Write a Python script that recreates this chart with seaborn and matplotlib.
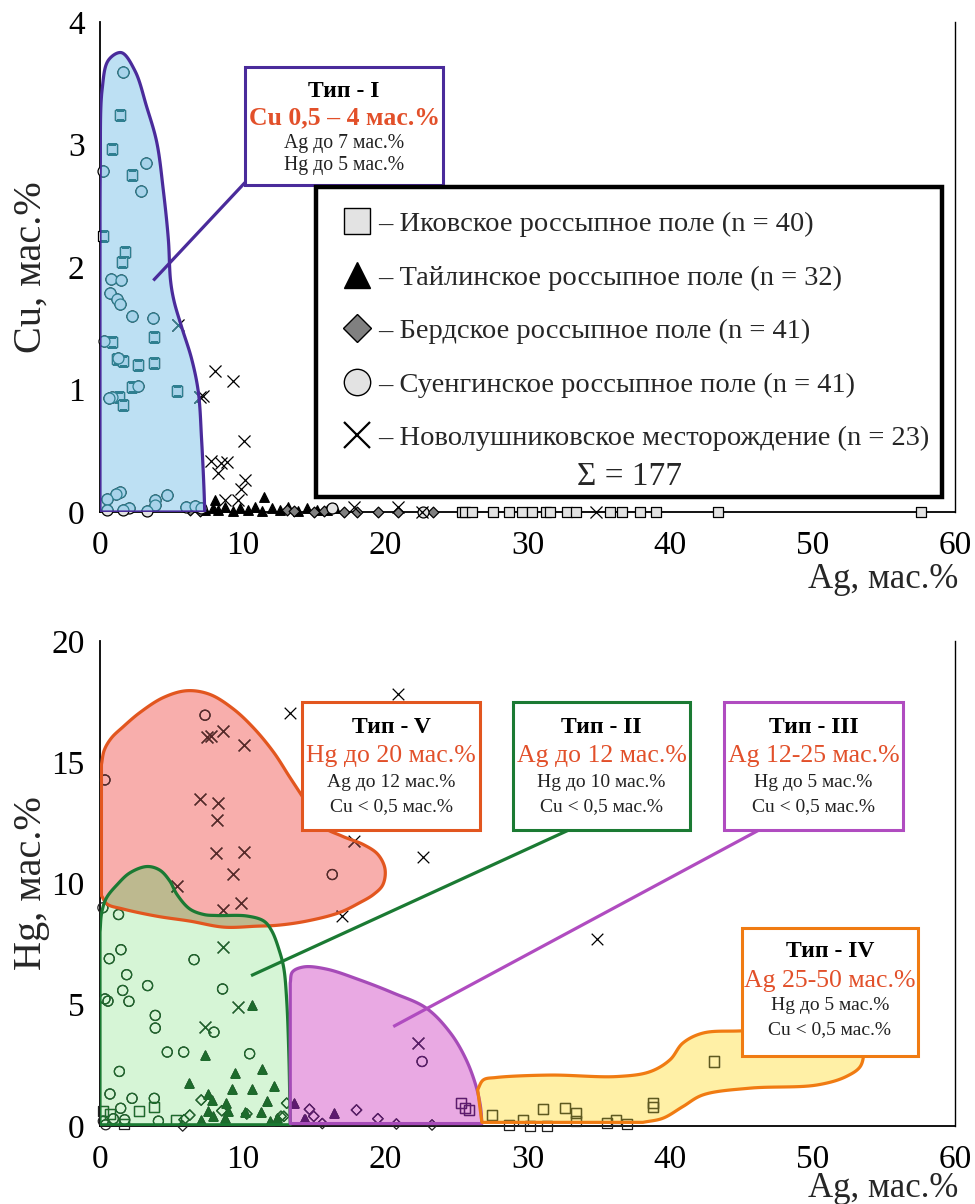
import numpy as np
import matplotlib
matplotlib.use("Agg")
import matplotlib.pyplot as plt
from matplotlib.patches import Polygon, Rectangle
from matplotlib.lines import Line2D
import seaborn as sns

# ---------------- Upper panel: Cu vs Ag (mass %) ----------------
ikovo_ag_top = [1.40, 0.82, 2.22, 0.19, 1.75, 1.57, 0.82, 3.81, 1.17, 1.64, 2.69, 3.79,
                2.22, 5.38, 1.36, 1.59, 25.4, 25.6, 26.1, 27.6, 28.7, 29.6, 30.3, 31.3,
                31.6, 32.8, 33.4, 35.8, 36.6, 37.9, 39.0, 43.4, 57.6]
ikovo_cu_top = [3.24, 2.96, 2.75, 2.25, 2.12, 2.04, 1.39, 1.43, 1.25, 1.23, 1.20, 1.22,
                1.02, 0.99, 0.94, 0.87, 0.0, 0.0, 0.0, 0.0, 0.0, 0.0, 0.0, 0.0,
                0.0, 0.0, 0.0, 0.0, 0.0, 0.0, 0.0, 0.0, 0.0]

taylin_ag_top = [7.4, 7.9, 8.1, 8.3, 8.8, 9.3, 9.8, 10.4, 10.9, 11.4, 11.5, 12.1, 12.6,
                 13.2, 13.9, 14.5, 15.2, 15.9, 16.5]
taylin_cu_top = [0.02, 0.03, 0.10, 0.02, 0.04, 0.01, 0.03, 0.02, 0.04, 0.01, 0.12, 0.03,
                 0.02, 0.04, 0.01, 0.03, 0.02, 0.02, 0.03]

berd_ag_top = [6.3, 7.0, 13.1, 13.6, 15.0, 15.7, 17.1, 18.0, 19.5, 20.9, 23.4]
berd_cu_top = [0.02, 0.01, 0.02, 0.01, 0.0, 0.01, 0.0, 0.0, 0.0, 0.0, 0.0]

suenga_ag_top = [1.64, 0.23, 3.23, 2.85, 0.75, 1.47, 0.70, 1.22, 1.40, 2.22, 3.74, 0.28,
                 1.29, 2.69, 0.82, 0.60, 1.40, 1.12, 0.47, 4.68, 3.86, 3.86, 0.5, 2.0,
                 1.6, 3.3, 6.0, 6.7, 7.1, 16.3, 22.7]
suenga_cu_top = [3.59, 2.78, 2.85, 2.62, 1.90, 1.89, 1.79, 1.74, 1.70, 1.60, 1.58, 1.40,
                 1.26, 1.03, 0.94, 0.93, 0.16, 0.15, 0.11, 0.14, 0.10, 0.06, 0.02, 0.03,
                 0.02, 0.01, 0.04, 0.05, 0.03, 0.03, 0.0]

novo_ag_top = [5.5, 8.1, 9.35, 7.25, 7.0, 10.1, 7.8, 8.5, 8.9, 8.3, 10.2, 9.9, 8.8, 9.7,
               17.8, 20.9, 22.6, 34.8]
novo_cu_top = [1.53, 1.15, 1.07, 0.95, 0.94, 0.58, 0.42, 0.40, 0.41, 0.32, 0.26, 0.19,
               0.10, 0.10, 0.04, 0.04, 0.0, 0.0]

# ---------------- Lower panel: Hg vs Ag (mass %) ----------------
ikovo_ag_bot = [3.81, 2.76, 0.23, 0.7, 1.7, 5.33, 25.3, 25.6, 25.9, 27.5, 28.7, 29.7,
                30.2, 31.1, 31.4, 32.6, 33.4, 33.4, 35.6, 36.2, 37.0, 38.8, 38.8, 43.1]
ikovo_hg_bot = [0.8, 0.63, 0.6, 0.5, 0.1, 0.25, 0.94, 0.75, 0.65, 0.45, 0.04, 0.25,
                0.0, 0.69, 0.0, 0.73, 0.52, 0.2, 0.14, 0.25, 0.1, 0.96, 0.8, 2.66]

taylin_ag_bot = [10.7, 7.37, 11.4, 9.5, 6.27, 9.24, 10.7, 12.2, 7.6, 7.85, 11.7, 8.85,
                 7.6, 9.0, 10.2, 11.3, 7.9, 8.8, 12.4, 11.9, 7.1, 13.6, 14.3, 16.4, 14.4]
taylin_hg_bot = [5.0, 2.93, 2.34, 2.18, 1.79, 1.53, 1.53, 1.65, 1.32, 1.07, 1.03, 0.94,
                 0.63, 0.6, 0.59, 0.59, 0.4, 0.35, 0.35, 0.2, 0.26, 0.94, 0.3, 0.52, 0.3]

berd_ag_bot = [7.1, 8.55, 10.3, 13.1, 14.7, 15.0, 15.6, 18.0, 19.5, 20.8, 23.3, 5.9,
               5.8, 12.7, 6.3, 12.9]
berd_hg_bot = [1.07, 0.63, 0.5, 0.94, 0.69, 0.4, 0.1, 0.66, 0.3, 0.08, 0.04, 0.26,
               0.0, 0.4, 0.45, 0.4]

suenga_ag_bot = [7.37, 0.35, 16.3, 0.2, 1.3, 1.47, 0.65, 6.6, 1.87, 3.34, 1.59, 8.6,
                 0.35, 0.56, 2.03, 3.88, 3.88, 8.0, 4.72, 5.87, 10.5, 1.36, 0.7, 2.25,
                 3.81, 1.45, 0.94, 1.73, 0.23, 4.1, 0.4, 22.6]
suenga_hg_bot = [16.94, 14.27, 10.37, 9.0, 8.72, 7.27, 6.9, 6.86, 6.24, 5.79, 5.59, 5.65,
                 5.24, 5.15, 5.14, 4.56, 4.04, 3.87, 3.05, 3.05, 2.98, 2.25, 1.32, 1.14,
                 1.14, 0.73, 0.3, 0.26, 0.2, 0.2, 0.05, 2.66]

novo_ag_bot = [13.3, 20.9, 7.5, 7.8, 8.65, 10.1, 7.0, 8.3, 8.2, 8.15, 10.1, 9.3, 5.4,
               9.9, 8.65, 17.8, 17.0, 8.65, 9.7, 7.4, 22.3, 22.7, 34.9]
novo_hg_bot = [17.05, 17.8, 16.05, 16.1, 16.3, 15.7, 13.5, 13.3, 12.6, 11.27, 11.3, 10.4,
               9.9, 9.2, 8.9, 11.75, 8.68, 7.4, 4.9, 4.1, 3.42, 11.1, 7.7]

legend_labels = [
    "– Иковское россыпное поле (n = 40)",
    "– Тайлинское россыпное поле (n = 32)",
    "– Бердское россыпное поле (n = 41)",
    "– Суенгинское россыпное поле (n = 41)",
    "– Новолушниковское месторождение (n = 23)",
]
total_label = "Σ = 177"
x_ticks = [0, 10, 20, 30, 40, 50, 60]

# ---------------- Field outlines (Ag, value) ----------------
FIELD_I = [("curve", [(0.0, 2.0), (0.02, 2.8), (0.15, 3.45), (0.6, 3.69), (1.5, 3.75),
                      (2.46, 3.6), (3.27, 3.31), (3.98, 3.02), (4.44, 2.63), (4.8, 2.22),
                      (4.95, 1.89), (5.2, 1.72), (5.73, 1.51), (6.43, 1.25), (6.9, 0.98),
                      (7.13, 0.59), (7.3, 0.18), (7.35, 0.0)]),
           ("line", [(7.35, 0.0), (0.0, 0.0), (0.0, 2.0)])]

FIELD_V = [("curve", [(0.1, 14.9), (0.3, 15.5), (0.8, 16.0), (1.6, 16.45), (2.8, 17.05),
                      (4.45, 17.67), (6.1, 17.95), (7.7, 17.8), (9.35, 17.2), (10.8, 16.4),
                      (12.2, 15.4), (13.3, 14.4), (14.3, 13.5), (15.5, 12.4), (17.0, 11.95),
                      (18.5, 11.6), (19.5, 11.2), (20.0, 10.6), (19.85, 9.95), (19.2, 9.55),
                      (18.2, 9.2), (16.8, 8.8), (14.5, 8.45), (12.5, 8.28), (11.0, 8.24),
                      (8.7, 8.2), (6.3, 8.45), (4.0, 8.65), (1.6, 8.95), (0.5, 9.15),
                      (0.1, 9.5)]),
           ("line", [(0.1, 9.5), (0.1, 14.9)])]

FIELD_II = [("line", [(13.35, 0.05), (0.0, 0.05), (0.0, 8.0)]),
            ("curve", [(0.0, 8.0), (0.12, 8.8), (0.45, 9.4), (1.2, 9.95), (2.1, 10.44),
                       (3.3, 10.7), (4.2, 10.55), (4.9, 10.1), (5.4, 9.55), (6.3, 8.95),
                       (7.3, 8.72), (8.2, 8.68), (10.3, 8.66), (11.5, 8.45), (12.05, 8.05),
                       (12.6, 7.2), (12.9, 6.5), (13.1, 5.2), (13.25, 3.0), (13.35, 0.05)])]

FIELD_III = [("line", [(26.8, 0.1), (13.35, 0.1), (13.35, 5.9)]),
             ("curve", [(13.35, 5.9), (13.5, 6.35), (14.3, 6.56), (15.9, 6.47), (18.2, 6.03),
                        (20.6, 5.48), (22.9, 4.86), (24.6, 3.83), (25.7, 2.73), (26.4, 1.62),
                        (26.7, 0.8), (26.8, 0.1)])]

FIELD_IV = [("curve", [(26.5, 1.5), (26.9, 1.9), (27.8, 2.0), (31.6, 2.1), (36.3, 2.04),
                       (38.6, 2.24), (40.0, 2.73), (40.9, 3.42), (42.3, 3.83), (44.9, 3.92),
                       (50.0, 3.97), (52.6, 3.85), (53.5, 3.3), (53.4, 2.5), (52.4, 2.05),
                       (50.3, 1.69), (45.6, 1.56), (42.3, 1.28), (40.9, 0.8), (39.5, 0.32),
                       (38.1, 0.15)]),
            ("line", [(38.1, 0.15), (26.8, 0.15), (26.5, 1.5)])]

RED = "#e2502a"
SERIF = ["Liberation Serif", "DejaVu Serif"]

sns.set_theme(style="white")
plt.rcParams["font.family"] = SERIF
plt.rcParams["axes.unicode_minus"] = False


def catmull_rom(p, n=14):
    """Centripetal Catmull-Rom curve through the points (display units)."""
    p = np.asarray(p, float)
    if len(p) < 3:
        return p
    ext = np.vstack([2 * p[0] - p[1], p, 2 * p[-1] - p[-2]])
    out = []

    def tj(ti, a, b):
        return ti + max(np.hypot(*(b - a)), 1e-6) ** 0.5

    for i in range(1, len(ext) - 2):
        p0, p1, p2, p3 = ext[i - 1], ext[i], ext[i + 1], ext[i + 2]
        t0 = 0.0
        t1 = tj(t0, p0, p1)
        t2 = tj(t1, p1, p2)
        t3 = tj(t2, p2, p3)
        t = np.linspace(t1, t2, n, endpoint=False)[:, None]
        a1 = (t1 - t) / (t1 - t0) * p0 + (t - t0) / (t1 - t0) * p1
        a2 = (t2 - t) / (t2 - t1) * p1 + (t - t1) / (t2 - t1) * p2
        a3 = (t3 - t) / (t3 - t2) * p2 + (t - t2) / (t3 - t2) * p3
        b1 = (t2 - t) / (t2 - t0) * a1 + (t - t0) / (t2 - t0) * a2
        b2 = (t3 - t) / (t3 - t1) * a2 + (t - t1) / (t3 - t1) * a3
        out.append((t2 - t) / (t2 - t1) * b1 + (t - t1) / (t2 - t1) * b2)
    out.append(p[-1:])
    return np.vstack(out)


def outline(ax, pieces):
    verts = []
    for kind, pts in pieces:
        disp = ax.transData.transform(np.asarray(pts, float))
        seg = catmull_rom(disp) if kind == "curve" else disp
        verts.append(seg if not verts else seg[1:])
    verts = np.vstack(verts)
    return ax.transData.inverted().transform(verts)


def field(ax, pieces, face, edge, lw=2.3):
    verts = outline(ax, pieces)
    fill = Polygon(verts, closed=True, facecolor=face, edgecolor="none", zorder=1)
    ax.add_patch(fill)
    line = Polygon(verts, closed=True, facecolor="none", edgecolor=edge, lw=lw, zorder=5,
                   joinstyle="round")
    ax.add_patch(line)
    return fill, verts


def points(ax, x, y, marker, s, face, edge, lw=0.9, zorder=3, clip=None):
    kw = dict(x=np.asarray(x), y=np.asarray(y), marker=marker, s=s, linewidth=lw,
              ax=ax, zorder=zorder, legend=False)
    if face == "none":
        kw.update(color=edge, facecolor="none", edgecolor=edge)
    else:
        kw.update(color=face, edgecolor=edge)
    n_before = len(ax.collections)
    sns.scatterplot(**kw)
    coll = ax.collections[n_before]
    if clip is None:
        coll.set_clip_on(False)
    else:
        coll.set_clip_path(clip)
    return coll


def info_box(ax, x0, x1, y0, y1, edge, lines, lw=2.2):
    ax.add_patch(Rectangle((x0, y0), x1 - x0, y1 - y0, facecolor="white", edgecolor=edge,
                           lw=lw, zorder=6, clip_on=False))
    xc = 0.5 * (x0 + x1)
    for text, y, size, weight, color in lines:
        ax.text(xc, y, text, ha="center", va="center", fontsize=size, fontweight=weight,
                color=color, zorder=7, clip_on=False)


fig = plt.figure(figsize=(9.75, 12.04), dpi=100)
fig.patch.set_facecolor("white")
ax1 = fig.add_axes([100 / 975, 1 - 512 / 1204, 855 / 975, 490 / 1204])
ax2 = fig.add_axes([100 / 975, 1 - 1126 / 1204, 855 / 975, 485 / 1204])

for ax, ymax, yticks in ((ax1, 4, [0, 1, 2, 3, 4]), (ax2, 20, [0, 5, 10, 15, 20])):
    ax.set_xlim(0, 60)
    ax.set_ylim(0, ymax)
    ax.set_xticks(x_ticks)
    ax.set_yticks(yticks)
    ax.set_facecolor("white")
    ax.grid(False)
    ax.spines["top"].set_visible(False)
    for side in ("left", "bottom"):
        ax.spines[side].set_color("black")
        ax.spines[side].set_linewidth(1.3)
    ax.spines["right"].set_color("black")
    ax.spines["right"].set_linewidth(1.0)
    ax.tick_params(axis="both", direction="out", length=6, width=2.0, colors="black",
                   labelsize=24)
    ax.tick_params(axis="x", pad=7)
    ax.tick_params(axis="y", pad=5)
    for lab in ax.get_xticklabels() + ax.get_yticklabels():
        lab.set_family(SERIF)

# ---------------- Upper panel ----------------
fill_I, _ = field(ax1, FIELD_I, "#bde0f3", "#4a2b9b")

top_sets = [
    (ikovo_ag_top, ikovo_cu_top, "s", 62, "#e3e3e3", "black"),
    (taylin_ag_top, taylin_cu_top, "^", 48, "black", "black"),
    (berd_ag_top, berd_cu_top, "D", 30, "#808080", "black"),
    (suenga_ag_top, suenga_cu_top, "o", 62, "#e3e3e3", "black"),
    (novo_ag_top, novo_cu_top, "x", 75, "black", "black"),
]
for x, y, m, s, fc, ec in top_sets:
    points(ax1, x, y, m, s, fc, ec)
for x, y, m, s, fc, ec in top_sets:
    inner_face = "#a8d3ea" if fc == "#e3e3e3" else "#2f7f90"
    points(ax1, x, y, m, s, inner_face, "#2f7f90", zorder=4, clip=fill_I)

info_box(ax1, 10.18, 24.07, 2.67, 3.63, "#4a2b9b", [
    ("Тип - I", 3.43, 17, "bold", "black"),
    ("Cu 0,5 – 4 мас.%", 3.215, 18.5, "bold", RED),
    ("Ag до 7 мас.%", 3.01, 14.2, "normal", "#222222"),
    ("Hg до 5 мас.%", 2.83, 14.2, "normal", "#222222"),
])
ax1.plot([10.18, 3.74], [2.69, 1.89], color="#4a2b9b", lw=2.3, zorder=6,
         solid_capstyle="butt")

# legend frame and entries
ax1.add_patch(Rectangle((15.16, 0.12), 59.09 - 15.16, 2.65 - 0.12, facecolor="white",
                        edgecolor="black", lw=3.2, zorder=6, clip_on=False))
handles = [
    Line2D([], [], marker="s", ls="none", markersize=19, markerfacecolor="#e3e3e3",
           markeredgecolor="black", markeredgewidth=1.0),
    Line2D([], [], marker="^", ls="none", markersize=19, markerfacecolor="black",
           markeredgecolor="black"),
    Line2D([], [], marker="D", ls="none", markersize=14, markerfacecolor="#808080",
           markeredgecolor="black", markeredgewidth=1.0),
    Line2D([], [], marker="o", ls="none", markersize=19, markerfacecolor="#e3e3e3",
           markeredgecolor="black", markeredgewidth=1.0),
    Line2D([], [], marker="x", ls="none", markersize=19, markeredgecolor="black",
           markeredgewidth=1.6),
]
leg = ax1.legend(handles, legend_labels, loc="upper left", bbox_to_anchor=(16.83, 2.455),
                 bbox_transform=ax1.transData, frameon=False, borderpad=0,
                 borderaxespad=0, handlelength=1.2, handletextpad=0.15,
                 labelspacing=0.97, prop={"family": SERIF, "size": 20.5})
leg.set_zorder(8)
ax1.text(37.19, 0.286, total_label, ha="center", va="center", fontsize=24, zorder=8)

ax1.set_xlabel("Ag, мас.%", loc="right", fontsize=25)
ax1.xaxis.set_label_coords(1.004, -0.105)
ax1.set_ylabel("Cu, мас.%", fontsize=29)
ax1.yaxis.set_label_coords(-0.0585, 0.5)

# ---------------- Lower panel ----------------
fill_V, _ = field(ax2, FIELD_V, "#f8aeac", "#e2561f")
fill_II, verts_II = field(ax2, FIELD_II, "#d6f5d6", "#1b7a33")
overlap = Polygon(verts_II, closed=True, facecolor="#bdb98f", edgecolor="none", zorder=1.5)
ax2.add_patch(overlap)
overlap.set_clip_path(fill_V)
fill_III, _ = field(ax2, FIELD_III, "#e9a9e3", "#a64bb8")
fill_IV, _ = field(ax2, FIELD_IV, "#fff0a6", "#f07b12")

bot_sets = [
    (ikovo_ag_bot, ikovo_hg_bot, "s", 52, "none"),
    (taylin_ag_bot, taylin_hg_bot, "^", 42, "filled"),
    (berd_ag_bot, berd_hg_bot, "D", 28, "none"),
    (suenga_ag_bot, suenga_hg_bot, "o", 52, "none"),
    (novo_ag_bot, novo_hg_bot, "x", 70, "filled"),
]
for x, y, m, s, style in bot_sets:
    points(ax2, x, y, m, s, "black" if style == "filled" else "none", "#222222")
for patch, dark in ((fill_V, "#5a2a2a"), (fill_II, "#1d6b2c"), (fill_III, "#5e1a70"),
                    (fill_IV, "#5f5a1e")):
    for x, y, m, s, style in bot_sets:
        points(ax2, x, y, m, s, dark if style == "filled" else "none", dark,
               zorder=4, clip=patch)

info_box(ax2, 14.18, 26.67, 12.19, 17.48, "#e2561f", [
    ("Тип - V", 16.45, 17, "bold", "black"),
    ("Hg до 20 мас.%", 15.25, 18.5, "normal", RED),
    ("Ag до 12 мас.%", 14.17, 14, "normal", "#222222"),
    ("Cu < 0,5 мас.%", 13.18, 14, "normal", "#222222"),
])
info_box(ax2, 28.98, 41.4, 12.19, 17.48, "#1b7a33", [
    ("Тип - II", 16.45, 17, "bold", "black"),
    ("Ag до 12 мас.%", 15.25, 18.5, "normal", RED),
    ("Hg до 10 мас.%", 14.17, 14, "normal", "#222222"),
    ("Cu < 0,5 мас.%", 13.18, 14, "normal", "#222222"),
])
info_box(ax2, 43.79, 56.35, 12.19, 17.48, "#b04cc0", [
    ("Тип - III", 16.45, 17, "bold", "black"),
    ("Ag 12-25 мас.%", 15.25, 18.5, "normal", RED),
    ("Hg до 5 мас.%", 14.17, 14, "normal", "#222222"),
    ("Cu < 0,5 мас.%", 13.18, 14, "normal", "#222222"),
])
info_box(ax2, 45.05, 57.40, 2.89, 8.18, "#f07b12", [
    ("Тип - IV", 7.19, 17, "bold", "black"),
    ("Ag 25-50 мас.%", 5.99, 18.5, "normal", RED),
    ("Hg до 5 мас.%", 4.96, 14, "normal", "#222222"),
    ("Cu < 0,5 мас.%", 3.97, 14, "normal", "#222222"),
])
ax2.plot([32.84, 10.6], [12.19, 6.2], color="#1b7a33", lw=2.3, zorder=6,
         solid_capstyle="butt")
ax2.plot([46.2, 20.58], [12.19, 4.10], color="#b04cc0", lw=2.3, zorder=6,
         solid_capstyle="butt")

ax2.set_xlabel("Ag, мас.%", loc="right", fontsize=25)
ax2.xaxis.set_label_coords(1.004, -0.095)
ax2.set_ylabel("Hg, мас.%", fontsize=29)
ax2.yaxis.set_label_coords(-0.0585, 0.5)

fig.savefig("out.png", dpi=100, facecolor="white")
